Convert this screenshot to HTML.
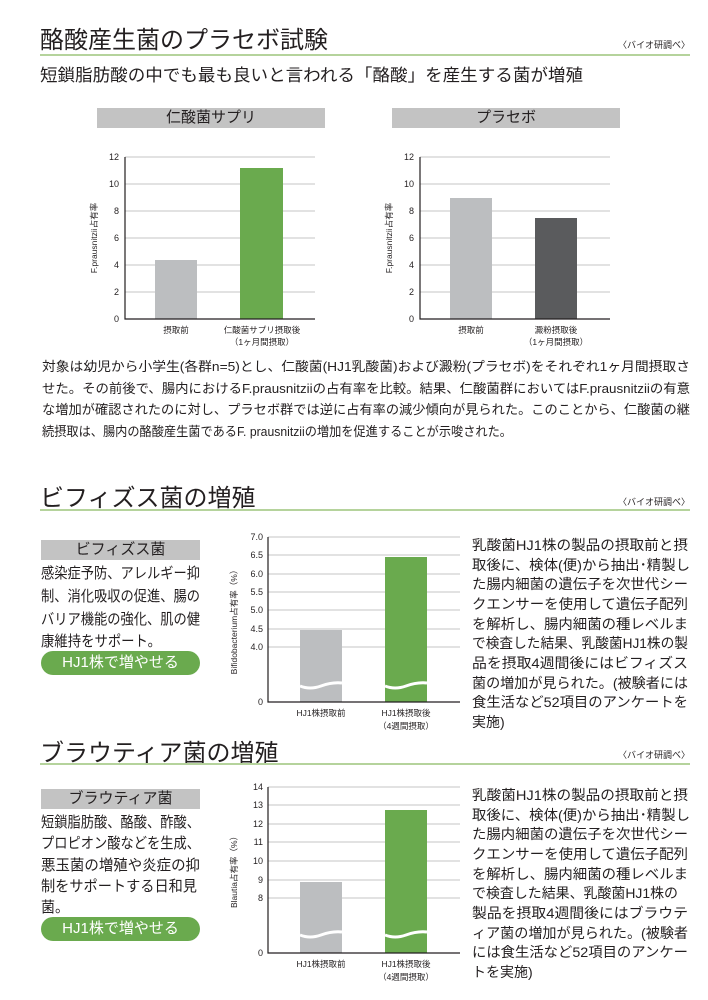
<!DOCTYPE html><html><head><meta charset="utf-8"><style>
body{margin:0;width:708px;height:1000px;background:#fff;position:relative;font-family:"Liberation Sans","Noto Sans CJK JP",sans-serif;color:#231f20;overflow:hidden}
.a{position:absolute;white-space:nowrap}
.h{font-size:24px;left:40px}
.ln{position:absolute;left:40px;width:650px;height:1.5px;background:#b5d39c}
.src{font-size:9px;right:18px}
.gb{position:absolute;background:#c3c3c3;text-align:center;font-size:15px;line-height:20px}
.btn{position:absolute;left:41px;width:159px;height:24px;border-radius:12px;background:#6aaa4e;color:#fff;text-align:center;font-size:15px;line-height:24px}
svg{position:absolute;left:0;top:0}
svg text{font-family:"Liberation Sans","Noto Sans CJK JP",sans-serif;fill:#231f20}
</style></head><body>
<div class="a h" style="top:20px">酪酸産生菌のプラセボ試験</div>
<div class="ln" style="top:54px"></div>
<div class="a src" style="top:38px">〈バイオ研調べ〉</div>
<div class="gb" style="left:97px;top:108px;width:228px">仁酸菌サプリ</div>
<div class="gb" style="left:392px;top:108px;width:228px">プラセボ</div>

<div class="a h" style="top:478px">ビフィズス菌の増殖</div>
<div class="ln" style="top:509px"></div>
<div class="a src" style="top:495px">〈バイオ研調べ〉</div>
<div class="gb" style="left:41px;top:540px;width:159px">ビフィズス菌</div>
<div class="btn" style="top:651px">HJ1株で増やせる</div>

<div class="a h" style="top:733px">ブラウティア菌の増殖</div>
<div class="ln" style="top:763px"></div>
<div class="a src" style="top:748px">〈バイオ研調べ〉</div>
<div class="gb" style="left:41px;top:789px;width:159px">ブラウティア菌</div>
<div class="btn" style="top:917px">HJ1株で増やせる</div>

<svg width="708" height="1000" font-size="9">
<text x="40" y="81" font-size="17" textLength="543" lengthAdjust="spacingAndGlyphs">短鎖脂肪酸の中でも最も良いと言われる「酪酸」を産生する菌が増殖</text>
<g font-size="13.3" lengthAdjust="spacingAndGlyphs">
<text x="42" y="371" textLength="648" lengthAdjust="spacingAndGlyphs">対象は幼児から小学生(各群n=5)とし、仁酸菌(HJ1乳酸菌)および澱粉(プラセボ)をそれぞれ1ヶ月間摂取さ</text>
<text x="42" y="393" textLength="648" lengthAdjust="spacingAndGlyphs">せた。その前後で、腸内におけるF.prausnitziiの占有率を比較。結果、仁酸菌群においてはF.prausnitziiの有意</text>
<text x="42" y="414" textLength="648" lengthAdjust="spacingAndGlyphs">な増加が確認されたのに対し、プラセボ群では逆に占有率の減少傾向が見られた。このことから、仁酸菌の継</text>
<text x="42" y="436" textLength="470" lengthAdjust="spacingAndGlyphs">続摂取は、腸内の酪酸産生菌であるF. prausnitziiの増加を促進することが示唆された。</text>
</g>
<g font-size="15">
<text x="41" y="578" textLength="159" lengthAdjust="spacingAndGlyphs">感染症予防、アレルギー抑</text>
<text x="41" y="601" textLength="159" lengthAdjust="spacingAndGlyphs">制、消化吸収の促進、腸の</text>
<text x="41" y="624" textLength="159" lengthAdjust="spacingAndGlyphs">バリア機能の強化、肌の健</text>
<text x="41" y="646" textLength="120" lengthAdjust="spacingAndGlyphs">康維持をサポート。</text>
<text x="41" y="827" textLength="159" lengthAdjust="spacingAndGlyphs">短鎖脂肪酸、酪酸、酢酸、</text>
<text x="41" y="848" textLength="159" lengthAdjust="spacingAndGlyphs">プロピオン酸などを生成、</text>
<text x="41" y="870" textLength="159" lengthAdjust="spacingAndGlyphs">悪玉菌の増殖や炎症の抑</text>
<text x="41" y="891" textLength="156" lengthAdjust="spacingAndGlyphs">制をサポートする日和見</text>
<text x="41" y="912" textLength="28" lengthAdjust="spacingAndGlyphs">菌。</text>
</g>
<g font-size="14">
<text x="472" y="550" textLength="216" lengthAdjust="spacingAndGlyphs">乳酸菌HJ1株の製品の摂取前と摂</text>
<text x="472" y="570" textLength="218" lengthAdjust="spacingAndGlyphs">取後に、検体(便)から抽出･精製し</text>
<text x="472" y="589" textLength="216" lengthAdjust="spacingAndGlyphs">た腸内細菌の遺伝子を次世代シー</text>
<text x="472" y="609" textLength="216" lengthAdjust="spacingAndGlyphs">クエンサーを使用して遺伝子配列</text>
<text x="472" y="629" textLength="216" lengthAdjust="spacingAndGlyphs">を解析し、腸内細菌の種レベルま</text>
<text x="472" y="648" textLength="216" lengthAdjust="spacingAndGlyphs">で検査した結果、乳酸菌HJ1株の製</text>
<text x="472" y="668" textLength="216" lengthAdjust="spacingAndGlyphs">品を摂取4週間後にはビフィズス</text>
<text x="472" y="688" textLength="216" lengthAdjust="spacingAndGlyphs">菌の増加が見られた。(被験者には</text>
<text x="472" y="707" textLength="216" lengthAdjust="spacingAndGlyphs">食生活など52項目のアンケートを</text>
<text x="472" y="727">実施)</text>
<text x="472" y="800" textLength="216" lengthAdjust="spacingAndGlyphs">乳酸菌HJ1株の製品の摂取前と摂</text>
<text x="472" y="820" textLength="218" lengthAdjust="spacingAndGlyphs">取後に、検体(便)から抽出･精製し</text>
<text x="472" y="839" textLength="216" lengthAdjust="spacingAndGlyphs">た腸内細菌の遺伝子を次世代シー</text>
<text x="472" y="859" textLength="216" lengthAdjust="spacingAndGlyphs">クエンサーを使用して遺伝子配列</text>
<text x="472" y="879" textLength="216" lengthAdjust="spacingAndGlyphs">を解析し、腸内細菌の種レベルま</text>
<text x="472" y="898" textLength="206" lengthAdjust="spacingAndGlyphs">で検査した結果、乳酸菌HJ1株の</text>
<text x="472" y="918" textLength="216" lengthAdjust="spacingAndGlyphs">製品を摂取4週間後にはブラウテ</text>
<text x="472" y="938" textLength="216" lengthAdjust="spacingAndGlyphs">ィア菌の増加が見られた。(被験者</text>
<text x="472" y="957" textLength="216" lengthAdjust="spacingAndGlyphs">には食生活など52項目のアンケー</text>
<text x="472" y="977">トを実施)</text>
</g>
<g stroke="#b0b0b0" stroke-width="0.8">
<line x1="125" x2="315" y1="157" y2="157"/><line x1="125" x2="315" y1="184" y2="184"/><line x1="125" x2="315" y1="211" y2="211"/><line x1="125" x2="315" y1="238" y2="238"/><line x1="125" x2="315" y1="265" y2="265"/><line x1="125" x2="315" y1="292" y2="292"/>
<line x1="420" x2="610" y1="157" y2="157"/><line x1="420" x2="610" y1="184" y2="184"/><line x1="420" x2="610" y1="211" y2="211"/><line x1="420" x2="610" y1="238" y2="238"/><line x1="420" x2="610" y1="265" y2="265"/><line x1="420" x2="610" y1="292" y2="292"/>
<line x1="268" x2="460" y1="537" y2="537"/><line x1="268" x2="460" y1="555" y2="555"/><line x1="268" x2="460" y1="574" y2="574"/><line x1="268" x2="460" y1="592" y2="592"/><line x1="268" x2="460" y1="610" y2="610"/><line x1="268" x2="460" y1="629" y2="629"/><line x1="268" x2="460" y1="647" y2="647"/>
<line x1="268" x2="460" y1="787" y2="787"/><line x1="268" x2="460" y1="805" y2="805"/><line x1="268" x2="460" y1="824" y2="824"/><line x1="268" x2="460" y1="842" y2="842"/><line x1="268" x2="460" y1="861" y2="861"/><line x1="268" x2="460" y1="880" y2="880"/><line x1="268" x2="460" y1="898" y2="898"/>
</g>
<rect x="155" y="260" width="42" height="59" fill="#bcbec0"/><rect x="240" y="168" width="43" height="151" fill="#6aaa4e"/>
<rect x="450" y="198" width="42" height="121" fill="#bcbec0"/><rect x="535" y="218" width="42" height="101" fill="#5a5b5d"/>
<rect x="300" y="630" width="42" height="72" fill="#bcbec0"/><rect x="385" y="557" width="42" height="145" fill="#6aaa4e"/>
<rect x="300" y="882" width="42" height="71" fill="#bcbec0"/><rect x="385" y="810" width="42" height="143" fill="#6aaa4e"/>
<g stroke="#fff" stroke-width="3" fill="none">
<path d="M300 686 q10 4 21 0 t21 -3"/><path d="M385 686 q10 4 21 0 t21 -3"/>
<path d="M300 935 q10 4 21 0 t21 -3"/><path d="M385 935 q10 4 21 0 t21 -3"/>
</g>
<g stroke="#231f20" stroke-width="1.2">
<path d="M125 157V319H315" fill="none"/><path d="M420 157V319H610" fill="none"/>
<path d="M268 537V702H460" fill="none"/><path d="M268 787V953H460" fill="none"/>
</g>
<g text-anchor="end">
<text x="119" y="160">12</text><text x="119" y="187">10</text><text x="119" y="214">8</text><text x="119" y="241">6</text><text x="119" y="268">4</text><text x="119" y="295">2</text><text x="119" y="322">0</text>
<text x="414" y="160">12</text><text x="414" y="187">10</text><text x="414" y="214">8</text><text x="414" y="241">6</text><text x="414" y="268">4</text><text x="414" y="295">2</text><text x="414" y="322">0</text>
<text x="263" y="540">7.0</text><text x="263" y="558">6.5</text><text x="263" y="577">6.0</text><text x="263" y="595">5.5</text><text x="263" y="613">5.0</text><text x="263" y="632">4.5</text><text x="263" y="650">4.0</text><text x="263" y="705">0</text>
<text x="263" y="790">14</text><text x="263" y="808">13</text><text x="263" y="827">12</text><text x="263" y="845">11</text><text x="263" y="864">10</text><text x="263" y="883">9</text><text x="263" y="901">8</text><text x="263" y="956">0</text>
</g>
<g text-anchor="middle" font-size="8.5">
<text x="176" y="333">摂取前</text><text x="262" y="333">仁酸菌サプリ摂取後</text><text x="262" y="345">（1ヶ月間摂取）</text>
<text x="471" y="333">摂取前</text><text x="556" y="333">澱粉摂取後</text><text x="556" y="345">（1ヶ月間摂取）</text>
<text x="321" y="716">HJ1株摂取前</text><text x="406" y="716">HJ1株摂取後</text><text x="406" y="729">（4週間摂取）</text>
<text x="321" y="967">HJ1株摂取前</text><text x="406" y="967">HJ1株摂取後</text><text x="406" y="980">（4週間摂取）</text>
<text transform="translate(97,238) rotate(-90)">F.prausnitzii占有率</text>
<text transform="translate(392,238) rotate(-90)">F.prausnitzii占有率</text>
<text transform="translate(237,620) rotate(-90)">Bifidobacterium占有率（%）</text>
<text transform="translate(237,870) rotate(-90)">Blautia占有率（%）</text>
</g>
</svg>
</body></html>
